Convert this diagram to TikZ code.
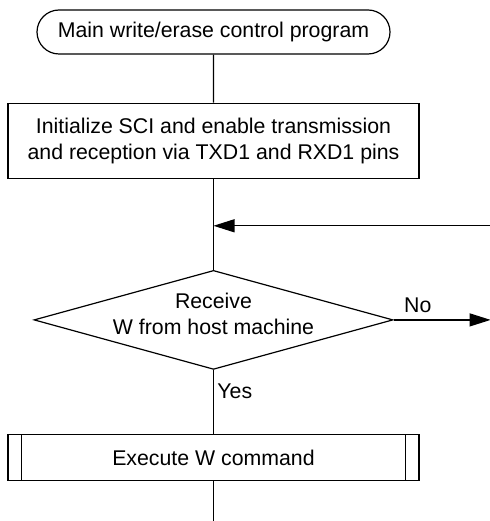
\documentclass[tikz,border=0pt]{standalone}
\usepackage{fontspec}
\setmainfont{Liberation Sans}
\usetikzlibrary{shapes.geometric,shapes.misc,arrows.meta,positioning}
\tikzset{
    % Define flowchart node styles
    startbox/.style={
        rounded rectangle, draw, line width=1.2pt,
        minimum width=353pt, minimum height=44pt, inner sep=0pt
    },
    processbox/.style={
        rectangle, draw, line width=1.2pt,
        minimum width=411pt, minimum height=75pt, align=center
    },
    decisionbox/.style={
        diamond, draw, line width=1.2pt,
        minimum width=359pt, minimum height=99pt, inner sep=0pt
    },
    subbox/.style={
        rectangle, draw, line width=1.2pt,
        minimum width=411pt, minimum height=46pt
    },
    flow/.style={
        line width=1.2pt
    },
    arrow/.style={
        flow, -{Triangle[length=21pt,width=13pt]}
    }
}
\begin{document}
\begin{tikzpicture}[x=1pt, y=1pt, font=\fontsize{21.3pt}{26pt}\selectfont]

\useasboundingbox (0,0) rectangle (489,-521);

% Main flow
\node[startbox] (start) at (213.5,-32) {Main write/erase control program};
\node[processbox, below=48pt of start] (init) {Initialize SCI and enable transmission\\and reception via TXD1 and RXD1 pins};
\coordinate[below=47pt of init] (join);
\node[decisionbox, below=44pt of join,
      label={[align=center, yshift=6pt]center:Receive\\W from host machine}] (recv) {};
\node[subbox, below=64pt of recv] (wcmd) {Execute W command};
\coordinate[below=44pt of wcmd] (bottom);

% Loose ends at the right edge
\coordinate[right=277pt of join] (back);
\coordinate[right=97pt of recv.east] (noend);

% Subroutine side bars
\draw[flow] ([xshift=14pt]wcmd.north west) -- ([xshift=14pt]wcmd.south west);
\draw[flow] ([xshift=-14pt]wcmd.north east) -- ([xshift=-14pt]wcmd.south east);

% Connectors
\draw[flow] (start) -- (init);
\draw[flow] (init) -- (recv);
\draw[arrow] (back) -- (join);
\draw[arrow] (recv) -- node[above=3pt, pos=0.25] {No} (noend);
\draw[flow] (recv) -- node[right, pos=0.34] {Yes} (wcmd);
\draw[flow] (wcmd) -- (bottom);

\end{tikzpicture}
\end{document}
